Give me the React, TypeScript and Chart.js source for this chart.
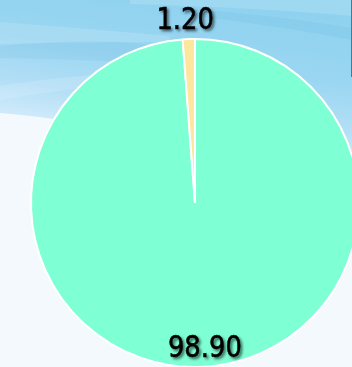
import React, { useEffect, useRef } from "react";
import { Chart, registerables } from "chart.js";

Chart.register(...registerables);

const categories = ["Share A", "Share B"];
const values = [98.9, 1.2];
const valueLabels = ["98.90", "1.20"];
const sliceColors = ["#7FFFD4", "#FDE79C"];

const VIEW_W = 352;
const VIEW_H = 367;
const CANVAS_W = 400;
const CANVAS_H = 420;

const skyPlugin = {
  id: "skyBackground",
  beforeDraw(chart: any) {
    const ctx = chart.ctx as CanvasRenderingContext2D;
    ctx.save();
    ctx.fillStyle = "#f4f9fd";
    ctx.fillRect(0, 0, chart.width, chart.height);

    // blue sky region
    const g = ctx.createLinearGradient(200, 0, 175, 175);
    g.addColorStop(0, "#8fd2ef");
    g.addColorStop(0.35, "#9ad6f1");
    g.addColorStop(0.6, "#b2def6");
    g.addColorStop(0.8, "#d0ebfa");
    g.addColorStop(1, "#e8f4fc");
    ctx.beginPath();
    ctx.moveTo(0, 0);
    ctx.lineTo(VIEW_W + 50, 0);
    ctx.lineTo(VIEW_W + 50, 205);
    ctx.lineTo(VIEW_W, 195);
    ctx.quadraticCurveTo(150, 125, 0, 113);
    ctx.closePath();
    ctx.fillStyle = g;
    ctx.fill();

    // soft light streaks
    ctx.globalAlpha = 0.14;
    ctx.fillStyle = "#ffffff";
    ctx.beginPath();
    ctx.moveTo(0, 22);
    ctx.quadraticCurveTo(80, 28, 170, 36);
    ctx.lineTo(170, 42);
    ctx.quadraticCurveTo(80, 42, 0, 44);
    ctx.closePath();
    ctx.fill();

    ctx.beginPath();
    ctx.moveTo(130, 0);
    ctx.lineTo(VIEW_W, 0);
    ctx.lineTo(VIEW_W, 16);
    ctx.quadraticCurveTo(260, 8, 130, 4);
    ctx.closePath();
    ctx.fill();

    ctx.beginPath();
    ctx.moveTo(0, 86);
    ctx.quadraticCurveTo(60, 76, 140, 72);
    ctx.lineTo(140, 80);
    ctx.quadraticCurveTo(60, 90, 0, 100);
    ctx.closePath();
    ctx.fill();

    // subtle darker streaks
    ctx.globalAlpha = 0.07;
    ctx.fillStyle = "#2a8fc4";
    ctx.beginPath();
    ctx.moveTo(0, 46);
    ctx.quadraticCurveTo(60, 40, 120, 42);
    ctx.quadraticCurveTo(200, 48, 260, 70);
    ctx.lineTo(260, 76);
    ctx.quadraticCurveTo(160, 60, 0, 58);
    ctx.closePath();
    ctx.fill();

    ctx.beginPath();
    ctx.moveTo(180, 8);
    ctx.quadraticCurveTo(280, 16, VIEW_W, 28);
    ctx.lineTo(VIEW_W, 40);
    ctx.quadraticCurveTo(280, 26, 180, 14);
    ctx.closePath();
    ctx.fill();
    ctx.globalAlpha = 1;

    // thin frame line at right edge
    ctx.fillStyle = "#6e6e6e";
    ctx.fillRect(VIEW_W - 1, 0, 1, 77);
    ctx.restore();
  },
};

const labelPlugin = {
  id: "sliceValueLabels",
  afterDatasetsDraw(chart: any) {
    const ctx = chart.ctx as CanvasRenderingContext2D;
    const meta = chart.getDatasetMeta(0);
    const size = 30;
    meta.data.forEach((arc: any, i: number) => {
      const p = arc.getProps(["x", "y", "startAngle", "endAngle", "outerRadius"], true);
      const mid = (p.startAngle + p.endAngle) / 2;
      const d = p.outerRadius * 1.6;
      let cx = p.x + Math.cos(mid) * d;
      let cy = p.y + Math.sin(mid) * d;
      cy = Math.min(Math.max(cy, 18), VIEW_H - 21);
      cx = Math.min(Math.max(cx, 40), VIEW_W - 40);
      ctx.save();
      ctx.translate(cx, cy);
      ctx.scale(0.86, 1);
      ctx.font = `${size}px 'DejaVu Sans'`;
      ctx.textAlign = "center";
      ctx.textBaseline = "alphabetic";
      ctx.shadowColor = "rgba(0,0,0,0.7)";
      ctx.shadowOffsetX = 2;
      ctx.shadowOffsetY = 2;
      ctx.shadowBlur = 3;
      ctx.fillStyle = "#000000";
      ctx.fillText(valueLabels[i], 0, size * 0.3645);
      ctx.shadowColor = "transparent";
      ctx.lineWidth = 0.6;
      ctx.strokeStyle = "#000000";
      ctx.strokeText(valueLabels[i], 0, size * 0.3645);
      ctx.restore();
    });
  },
};

export default function App() {
  const canvasRef = useRef<HTMLCanvasElement | null>(null);

  useEffect(() => {
    if (!canvasRef.current) return;
    const chart = new Chart(canvasRef.current, {
      type: "pie",
      data: {
        labels: categories,
        datasets: [
          {
            data: values,
            backgroundColor: sliceColors,
            borderColor: "#ffffff",
            borderWidth: 2,
          },
        ],
      },
      options: {
        responsive: false,
        animation: false,
        layout: { padding: { left: 30, top: 38, right: 40, bottom: 52 } },
        plugins: {
          legend: { display: false },
          tooltip: { enabled: false },
        },
      },
      plugins: [skyPlugin, labelPlugin],
    });
    return () => chart.destroy();
  }, []);

  return (
    <div
      style={{
        position: "fixed",
        left: 0,
        top: 0,
        width: VIEW_W,
        height: VIEW_H,
        overflow: "hidden",
        background: "#f4f9fd",
      }}
    >
      <canvas
        ref={canvasRef}
        width={CANVAS_W}
        height={CANVAS_H}
        style={{ display: "block", width: CANVAS_W, height: CANVAS_H }}
      />
    </div>
  );
}
